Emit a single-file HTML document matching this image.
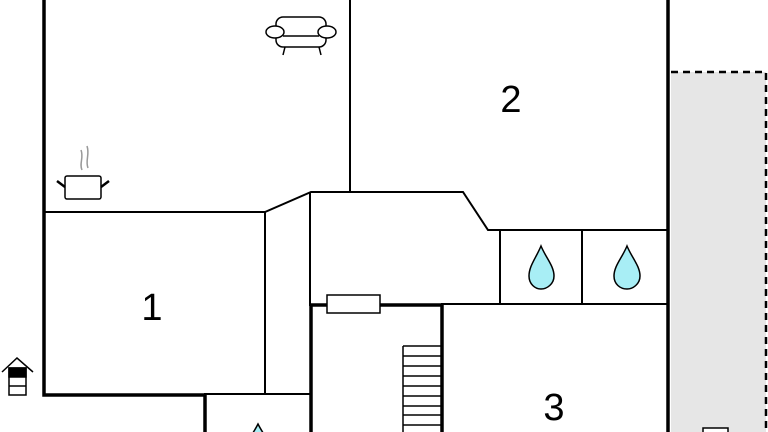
<!DOCTYPE html>
<html><head><style>html,body{margin:0;padding:0;background:#fff;width:768px;height:432px;overflow:hidden}</style></head>
<body>
<svg width="768" height="432" viewBox="0 0 768 432" xmlns="http://www.w3.org/2000/svg" style="display:block">
<rect x="671" y="72" width="95" height="360" fill="#e6e6e6"/>
<path d="M671 72 H766 V432" fill="none" stroke="#000" stroke-width="2.5" stroke-dasharray="7,5"/>
<g stroke="#000" fill="none" stroke-linecap="square">
<!-- thick walls -->
<path d="M44 0 V395 H205 V432" stroke-width="3.5"/>
<path d="M668 0 V432" stroke-width="3.5"/>
<path d="M311 432 V305 H442 V432" stroke-width="3.5"/>
<!-- thin walls -->
<g stroke-width="2">
<path d="M44 212 H265 L311 192 H463 L488 230 H668"/>
<path d="M350 0 V191"/>
<path d="M265 212 V394 H310"/>
<path d="M310 193 V305"/>
<path d="M442 304 H668"/>
<path d="M500 230 V304 M582 230 V304"/>
<path d="M205 394 H265"/>
</g>
</g>
<rect x="327" y="295" width="53" height="18" fill="#fff" stroke="#000" stroke-width="1.5"/>
<!-- stairs -->
<g stroke="#000" stroke-width="1.5" fill="none">
<path d="M403 346 V432 M403 346 H442 M403 356 H442 M403 366 H442 M403 376 H442 M403 386 H442 M403 396 H442 M403 406 H442 M403 415 H442 M403 425 H442"/>
</g>
<!-- drops -->
<g fill="#a8eef5" stroke="#000" stroke-width="1.5">
<path d="M541 246 C536 258 529 266 529 276 C529 284 535 289 541 289 C547 289 554 284 554 276 C554 266 546 258 541 246Z"/>
<path d="M627 246 C622 258 614 266 614 276 C614 284 620 289 627 289 C633 289 640 284 640 276 C640 266 632 258 627 246Z"/>
<path d="M258 424 C255 430 252 434 250 438 L266 438 C264 434 261 430 258 424Z"/>
</g>
<!-- sofa -->
<g fill="#fff" stroke="#000" stroke-width="1.5">
<rect x="276" y="17" width="50" height="30" rx="7"/>
<path d="M283 36 H319"/>
<ellipse cx="275" cy="32" rx="9" ry="6"/>
<ellipse cx="327" cy="32" rx="9" ry="6"/>
<path d="M285 47 L283 55 M319 47 L321 55"/>
</g>
<!-- pot -->
<g stroke="#000" stroke-width="1.5" fill="#fff">
<rect x="65" y="176" width="36" height="23" rx="2"/>
<path d="M57 181 L65 187 M109 181 L101 187" stroke-width="2.5"/>
</g>
<path d="M82 170 C79 163 84 158 81 150 M88 168 C85 160 90 155 87 146" stroke="#999" stroke-width="1.5" fill="none"/>
<!-- entrance icon -->
<g stroke="#000" stroke-width="1.5" fill="#fff">
<path d="M2 372 L17 358 L33 372"/>
<rect x="9" y="368" width="17" height="27"/>
<rect x="9" y="368" width="17" height="9" fill="#000"/>
<path d="M9 386 H26"/>
</g>
<!-- bucket bottom right -->
<path d="M703 432 V428 H728 V432" fill="#fff" stroke="#000" stroke-width="1.5"/>
<g font-family="Liberation Sans, sans-serif" font-size="38" fill="#000" text-anchor="middle">
<text x="152" y="320">1</text>
<text x="511" y="112">2</text>
<text x="554" y="420">3</text>
</g>
</svg>
</body></html>
